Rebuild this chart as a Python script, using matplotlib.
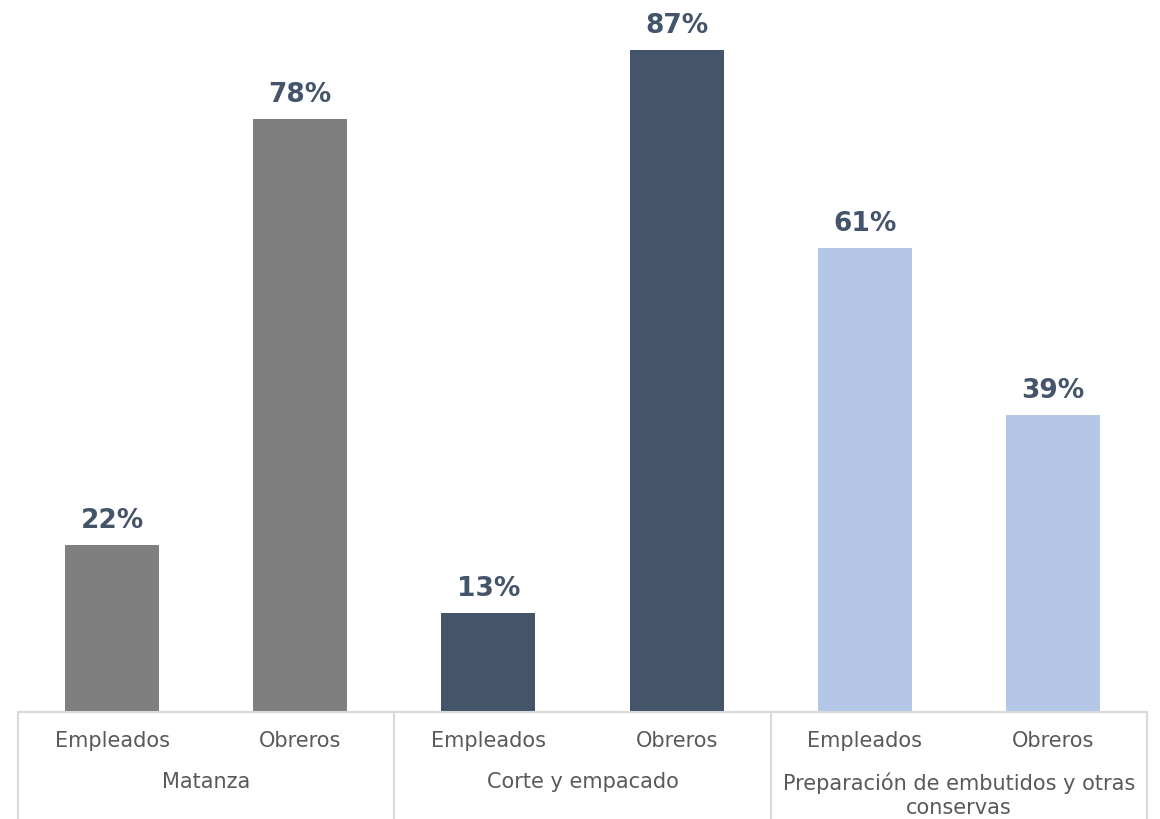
import matplotlib.pyplot as plt
import matplotlib.transforms as mtransforms

groups = ['Matanza', 'Corte y empacado', 'Preparación de embutidos y otras\nconservas']
sub_labels = ['Empleados', 'Obreros', 'Empleados', 'Obreros', 'Empleados', 'Obreros']
values = [22, 78, 13, 87, 61, 39]
group_colors = ['#7F7F7F', '#44546A', '#B4C7E7']

plt.rcParams['font.family'] = ['DejaVu Sans']

fig = plt.figure(figsize=(11.6, 8.19), dpi=100)
ax = fig.add_axes([18 / 1160, 107 / 819, 1129 / 1160, 712 / 819])

x = list(range(len(values)))
colors = [group_colors[i // 2] for i in x]
bars = ax.bar(x, values, width=0.5, color=colors)

for xi, v in zip(x, values):
    ax.annotate(f'{v}%', (xi, v), xytext=(0, 8), textcoords='offset points',
                ha='center', va='bottom', fontsize=19, fontweight='bold',
                color='#44546A')

ax.set_xlim(-0.5, 5.5)
ax.set_ylim(0, 93.6)
ax.set_xticks([])
ax.set_yticks([])
for s in ['top', 'right', 'left']:
    ax.spines[s].set_visible(False)
ax.spines['bottom'].set_color('#D9D9D9')
ax.spines['bottom'].set_linewidth(1.5)

trans = mtransforms.blended_transform_factory(ax.transData, ax.transAxes)
for xi, lab in zip(x, sub_labels):
    ax.text(xi, -29 / 712, lab, transform=trans, ha='center', va='center',
            fontsize=15, color='#595959')
for gi, g in enumerate(groups):
    ax.text(2 * gi + 0.5, -60 / 712, g, transform=trans, ha='center', va='top',
            fontsize=15, color='#595959', linespacing=1.3)

for sep in [-0.5, 1.5, 3.5, 5.5]:
    ax.plot([sep, sep], [0, -0.16], transform=trans, color='#D9D9D9',
            lw=1.5, clip_on=False)

fig.savefig('out.png', dpi=100)
